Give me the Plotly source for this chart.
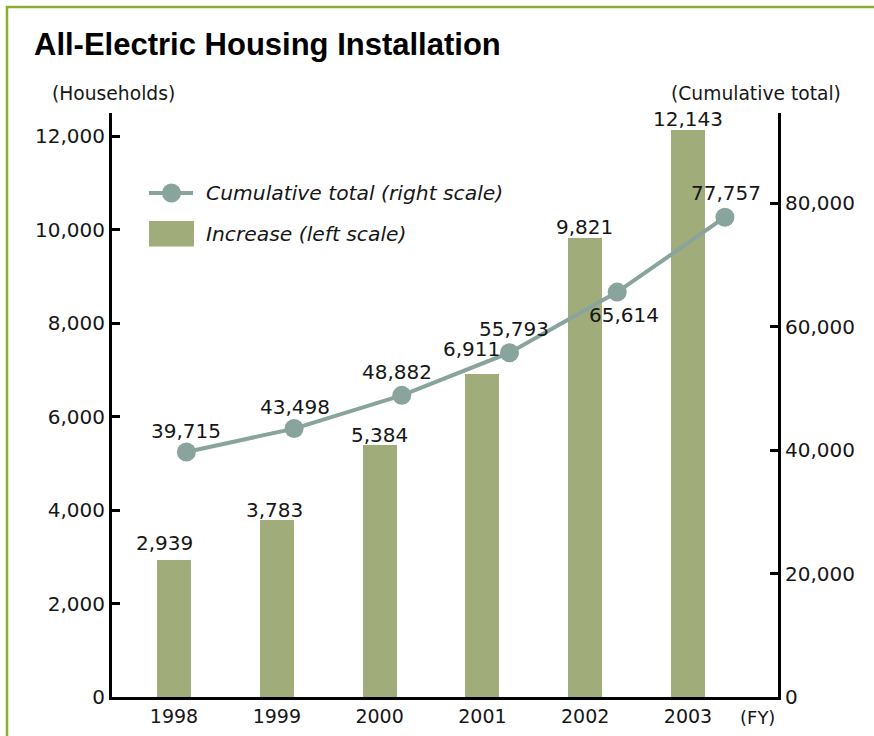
import plotly.graph_objects as go

# Fiscal years and values
years = ["1998", "1999", "2000", "2001", "2002", "2003"]
increase = [2939, 3783, 5384, 6911, 9821, 12143]          # households added (left scale)
cumulative = [39715, 43498, 48882, 55793, 65614, 77757]   # cumulative total (right scale)
left_ticks = [0, 2000, 4000, 6000, 8000, 10000, 12000]
right_ticks = [0, 20000, 40000, 60000, 80000]

# label nudges (pixels) so they sit clear of the line
bar_label_dx = [-10, -2, 0, -11, -1, 0]
bar_label_dy = [17, 10, 10, 25, 11, 11]
line_label_dx = [0, 1, -5, 4, 7, 1]
line_label_dy = [21, 22, 23, 24, -23, 24]

W, H = 874, 736
L, R, T, B = 112, 778, 113, 697
PW, PH = R - L, B - T

BAR = "#a1ac7b"
LINE = "#88a49c"
INK = "#161616"
FRAME = "#8dad2e"
NUM = "DejaVu Sans"


def px(x):
    return (x - L) / PW


def py(y):
    return (B - y) / PH


fig = go.Figure()

fig.add_trace(go.Bar(
    x=years, y=increase, width=0.33,
    marker=dict(color=BAR, line=dict(width=0)),
    name="Increase (left scale)", xaxis="x", yaxis="y",
    showlegend=False, hoverinfo="x+y",
))

fig.add_trace(go.Scatter(
    x=years, y=cumulative, mode="lines+markers",
    line=dict(color=LINE, width=4),
    marker=dict(color=LINE, size=19),
    name="Cumulative total (right scale)", xaxis="x2", yaxis="y2",
    showlegend=False, hoverinfo="x+y",
))

annotations = []
# value labels; category axes take the serial index of each year
for i, v in enumerate(increase):
    annotations.append(dict(
        x=i, y=v, xref="x", yref="y", text=f"{v:,}", showarrow=False,
        xanchor="center", yanchor="middle",
        xshift=bar_label_dx[i], yshift=bar_label_dy[i],
        font=dict(family=NUM, size=20, color=INK),
    ))
for i, v in enumerate(cumulative):
    annotations.append(dict(
        x=i, y=v, xref="x2", yref="y2", text=f"{v:,}", showarrow=False,
        xanchor="center", yanchor="middle",
        xshift=line_label_dx[i], yshift=line_label_dy[i],
        font=dict(family=NUM, size=20, color=INK),
    ))

# title and axis captions
annotations += [
    dict(x=px(32), y=py(44), xref="paper", yref="paper", xanchor="left", yanchor="middle",
         text="<b>All-Electric Housing Installation</b>", showarrow=False,
         font=dict(family="Liberation Sans", size=31, color="#000")),
    dict(x=px(113.5), y=py(93), xref="paper", yref="paper", xanchor="center", yanchor="middle",
         text="(Households)", showarrow=False, font=dict(family=NUM, size=18.7, color=INK)),
    dict(x=px(756), y=py(93), xref="paper", yref="paper", xanchor="center", yanchor="middle",
         text="(Cumulative total)", showarrow=False, font=dict(family=NUM, size=18.7, color=INK)),
    dict(x=px(757), y=py(717), xref="paper", yref="paper", xanchor="center", yanchor="middle",
         text="(FY)", showarrow=False, font=dict(family=NUM, size=18, color=INK)),
    dict(x=px(204), y=py(193), xref="paper", yref="paper", xanchor="left", yanchor="middle",
         text="<i>Cumulative total (right scale)</i>", showarrow=False,
         font=dict(family=NUM, size=20.3, color=INK)),
    dict(x=px(204), y=py(234), xref="paper", yref="paper", xanchor="left", yanchor="middle",
         text="<i>Increase (left scale)</i>", showarrow=False,
         font=dict(family=NUM, size=20.3, color=INK)),
]

shapes = [
    # legend keys
    dict(type="line", xref="paper", yref="paper", x0=px(149), x1=px(193), y0=py(193), y1=py(193),
         line=dict(color=LINE, width=4)),
    dict(type="circle", xref="paper", yref="paper", xsizemode="pixel", ysizemode="pixel",
         xanchor=px(171.5), yanchor=py(193), x0=-9.5, x1=9.5, y0=-9.5, y1=9.5,
         fillcolor=LINE, line=dict(width=0)),
    dict(type="rect", xref="paper", yref="paper", x0=px(149), x1=px(194), y0=py(246.5), y1=py(221),
         fillcolor=BAR, line=dict(width=0)),
    # green frame along the top and left edges
    dict(type="line", xref="paper", yref="paper", x0=px(6), x1=px(874), y0=py(7), y1=py(7),
         line=dict(color=FRAME, width=2.5)),
    dict(type="line", xref="paper", yref="paper", x0=px(7), x1=px(7), y0=py(6), y1=py(736),
         line=dict(color=FRAME, width=2.5)),
]

axis_font = dict(family=NUM, size=20, color=INK)

fig.update_layout(
    width=W, height=H,
    margin=dict(l=L, r=W - R, t=T, b=H - B, pad=0, autoexpand=False),
    paper_bgcolor="white", plot_bgcolor="white",
    showlegend=False, bargap=0,
    xaxis=dict(
        type="category", categoryorder="array", categoryarray=years,
        range=[-(174 - L) / 102.8, (R - 174) / 102.8],
        showline=True, linecolor="#000", linewidth=3, ticks="",
        showgrid=False, zeroline=False, automargin=False,
        tickfont=dict(family=NUM, size=19, color=INK),
    ),
    xaxis2=dict(
        type="category", categoryorder="array", categoryarray=years,
        overlaying="x", visible=False, automargin=False,
        range=[-(186.4 - L) / 107.7, (R - 186.4) / 107.7],
    ),
    yaxis=dict(
        range=[0, 12500], tickvals=left_ticks, tickformat=",",
        showline=True, linecolor="#000", linewidth=3,
        ticks="inside", ticklen=8, tickwidth=3, tickcolor="#000",
        showgrid=False, zeroline=False, tickfont=axis_font, automargin=False,
    ),
    yaxis2=dict(
        range=[0, 94640], tickvals=right_ticks, tickformat=",",
        overlaying="y", side="right", anchor="x",
        showline=True, linecolor="#000", linewidth=3,
        ticks="inside", ticklen=8, tickwidth=3, tickcolor="#000",
        showgrid=False, zeroline=False, tickfont=axis_font, automargin=False,
    ),
    annotations=annotations,
    shapes=shapes,
)

fig.write_html("out.html")
